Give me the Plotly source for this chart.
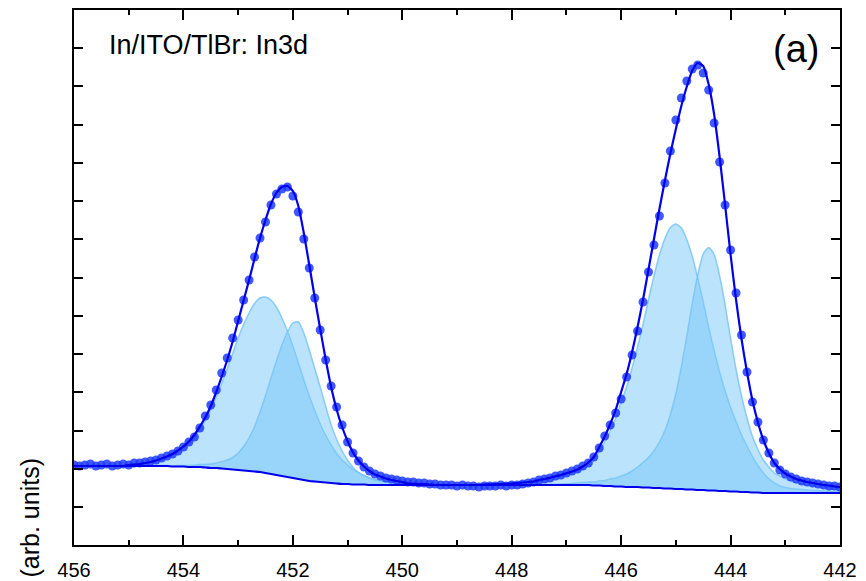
import numpy as np
import plotly.graph_objects as go

# Binding energy grid (eV), 0.1 eV steps from 456.0 down to 442.0
E_START, E_STOP, E_STEP = 456.0, 442.0, 0.1
energy = np.round(np.arange(E_START, E_STOP - 0.05, -E_STEP), 1)

# Measured XPS data (arb. units), one value per energy point
intensity = [
    80, 79, 80, 81, 79, 80, 81, 79, 80, 81,
    80, 82, 82, 83, 84, 85, 87, 89, 91, 94,
    98, 103, 108, 117, 129, 140, 155, 172, 187, 207,
    225, 245, 265, 288, 307, 323, 340, 351, 356, 358,
    349, 333, 306, 277, 247, 215, 185, 159, 138, 120,
    103, 92, 84, 78, 74, 71, 69, 67, 66, 65,
    64, 63, 63, 62, 62, 61, 61, 60, 60, 60,
    59, 60, 59, 59, 58, 59, 59, 59, 60, 59,
    60, 60, 61, 62, 63, 65, 66, 67, 69, 70,
    72, 74, 76, 79, 82, 88, 97, 109, 120, 132,
    146, 168, 190, 214, 243, 273, 300, 329, 362, 394,
    425, 447, 464, 476, 480, 472, 455, 422, 383, 340,
    295, 252, 210, 173, 143, 123, 105, 92, 82, 75,
    71, 68, 66, 64, 63, 62, 61, 60, 59, 59,
    58,
]

# Shirley-type background
background = [
    79, 79, 79, 79, 79, 79, 79, 79, 79, 79,
    79, 79, 79, 79, 79, 79, 79, 79, 78.5, 78.5,
    78.5, 78, 78, 78, 77.5, 77, 77, 76.5, 76, 75.5,
    75, 74.5, 74, 73.5, 73, 72, 71, 70, 69, 68,
    67, 66, 65, 64, 63.5, 63, 62.5, 62, 61.5, 61,
    61, 60.5, 60.5, 60.5, 60, 60, 60, 60, 60, 60,
    60, 60, 60, 60, 60, 60, 60, 60, 60, 60,
    60, 60, 60, 60, 60, 60, 60, 60, 60, 60,
    60, 60, 60, 60, 60, 60, 60, 60, 60, 60,
    60, 60, 60, 60, 60, 59.5, 59.5, 59, 59, 58.5,
    58.5, 58, 58, 58, 57.5, 57.5, 57, 57, 56.5, 56.5,
    56, 56, 55.5, 55.5, 55, 55, 54.5, 54.5, 54, 54,
    53.5, 53.5, 53, 53, 52.5, 52.5, 52, 52, 52, 52,
    52, 52, 52, 52, 52, 52, 52, 52, 52, 52,
    52,
]

# Fitted components (height above background), each starting at given energy
comp_3d52_a_start = 455.0
comp_3d52_a = [
    1, 1.5, 2, 3, 4, 5, 7, 9, 12, 15,
    19, 24, 30, 38, 47, 58, 71, 85, 100, 116,
    132, 146, 158, 168, 174, 176, 174, 168, 158, 146,
    132, 116, 100, 85, 71, 58, 47, 38, 30, 24,
    19, 15, 12, 9, 7, 5, 4, 3, 2, 1.5, 1,
]
comp_3d32_b_start = 454.5
comp_3d32_b = [
    0.5, 0.5, 0.5, 0.5, 1, 1, 1.5, 2, 2.5, 3,
    4, 5, 7, 9, 12, 17, 24, 33, 45, 60,
    77, 96, 114, 131, 145, 155, 157, 147, 131, 113,
    95, 76, 58, 44, 33, 24, 17, 12, 9, 7,
    5.5, 4.5, 3.5, 3, 2.5, 2, 1.5, 1.2, 1, 0.8, 0.5,
]
comp_3d52_c_start = 448.5
comp_3d52_c = [
    0.5, 0.6, 0.8, 1, 1.2, 1.5, 2, 2.5, 3, 3.5,
    4.5, 5.5, 6.5, 8, 9, 10.5, 12, 13.5, 16, 19.5,
    25, 34, 44, 55, 68, 84, 100, 119, 140, 163,
    188, 212, 233, 250, 261, 265, 261, 250, 233, 212,
    188, 163, 140, 119, 100, 84, 70, 57, 46, 36,
    27, 20, 14, 10, 7, 5.5, 4.5, 4, 3.5, 3,
    2.5, 2.5, 2, 2, 1.5, 1.5,
]
comp_3d52_d_start = 447.5
comp_3d52_d = [
    0.4, 0.5, 0.6, 0.8, 1, 1.2, 1.5, 2, 2.5, 3,
    3.5, 4.5, 5.5, 7, 8.5, 10.5, 13, 16, 20, 25,
    30, 37, 46, 58, 74, 95, 122, 153, 186, 215,
    236, 243, 236, 215, 186, 153, 122, 96, 74, 56,
    43, 33, 26, 20, 17, 14, 12, 10, 9, 8,
    7.5, 6.5, 6, 5.5, 5, 4.5,
]

x_ticks = [456, 454, 452, 450, 448, 446, 444, 442]

components = [
    (comp_3d52_a_start, comp_3d52_a),
    (comp_3d32_b_start, comp_3d32_b),
    (comp_3d52_c_start, comp_3d52_c),
    (comp_3d52_d_start, comp_3d52_d),
]

bg = np.array(background, dtype=float)
n = len(energy)
envelope = bg.copy()

FONT = "Liberation Sans, Arial, sans-serif"
FILL = "rgba(120,200,250,0.5)"
EDGE = "rgba(120,196,245,0.85)"
BLUE = "rgb(0,0,235)"

fig = go.Figure()

for start, vals in components:
    i0 = int(round((E_START - start) / E_STEP))
    vals = np.array(vals, dtype=float)
    i1 = i0 + len(vals)
    padded = np.zeros(n)
    padded[i0:i1] = vals
    envelope += padded
    xs = energy[i0:i1]
    fig.add_trace(go.Scatter(x=xs, y=bg[i0:i1], mode="lines",
                             line=dict(width=0, color="rgba(0,0,0,0)"),
                             hoverinfo="skip", showlegend=False))
    fig.add_trace(go.Scatter(x=xs, y=bg[i0:i1] + vals, mode="lines",
                             line=dict(width=1.5, color=EDGE, shape="spline", smoothing=0.6),
                             fill="tonexty", fillcolor=FILL, showlegend=False))

fig.add_trace(go.Scatter(x=energy, y=intensity, mode="markers",
                         marker=dict(size=9, color="rgba(30,60,255,0.85)", line=dict(width=0)),
                         showlegend=False))
fig.add_trace(go.Scatter(x=energy, y=bg, mode="lines",
                         line=dict(width=2.2, color=BLUE, shape="spline", smoothing=0.6),
                         showlegend=False))
fig.add_trace(go.Scatter(x=energy, y=envelope, mode="lines",
                         line=dict(width=2.2, color=BLUE, shape="spline", smoothing=0.6),
                         showlegend=False))

fig.update_layout(
    width=866, height=581,
    margin=dict(l=74, r=26, t=10, b=36, autoexpand=False),
    paper_bgcolor="white", plot_bgcolor="white",
    showlegend=False,
    font=dict(family=FONT, color="black"),
    xaxis=dict(
        range=[456, 442], tickmode="array", tickvals=x_ticks,
        ticktext=[str(t) for t in x_ticks],
        ticks="inside", ticklen=10, tickwidth=1.5, tickcolor="black",
        showline=True, linecolor="black", linewidth=2, mirror="allticks",
        showgrid=False, zeroline=False, ticklabelstandoff=6, automargin=False,
        tickfont=dict(family=FONT, size=20, color="black"),
        minor=dict(ticks="inside", ticklen=5, tickwidth=1.5, tickcolor="black",
                   tickmode="linear", tick0=442, dtick=1, showgrid=False),
    ),
    yaxis=dict(
        range=[0, 535], tickmode="linear", tick0=38, dtick=38.25,
        ticks="inside", ticklen=9, tickwidth=1.5, tickcolor="black",
        showticklabels=False, automargin=False,
        showline=True, linecolor="black", linewidth=2, mirror="allticks",
        showgrid=False, zeroline=False,
    ),
    annotations=[
        dict(text="In/ITO/TlBr: In3d", xref="paper", yref="paper",
             x=(107 - 74) / 766, y=(545 - 45) / 535, xanchor="left", yanchor="middle",
             showarrow=False, font=dict(family=FONT, size=27, color="black")),
        dict(text="(a)", xref="paper", yref="paper",
             x=(821 - 74) / 766, y=(545 - 49) / 535, xanchor="right", yanchor="middle",
             showarrow=False, font=dict(family=FONT, size=38, color="black")),
        dict(text="(arb. units)", xref="paper", yref="paper",
             x=(29 - 74) / 766, y=(545 - 457) / 535, xanchor="center", yanchor="top",
             textangle=-90, showarrow=False,
             font=dict(family=FONT, size=25, color="black")),
    ],
)

fig.write_html("out.html")
